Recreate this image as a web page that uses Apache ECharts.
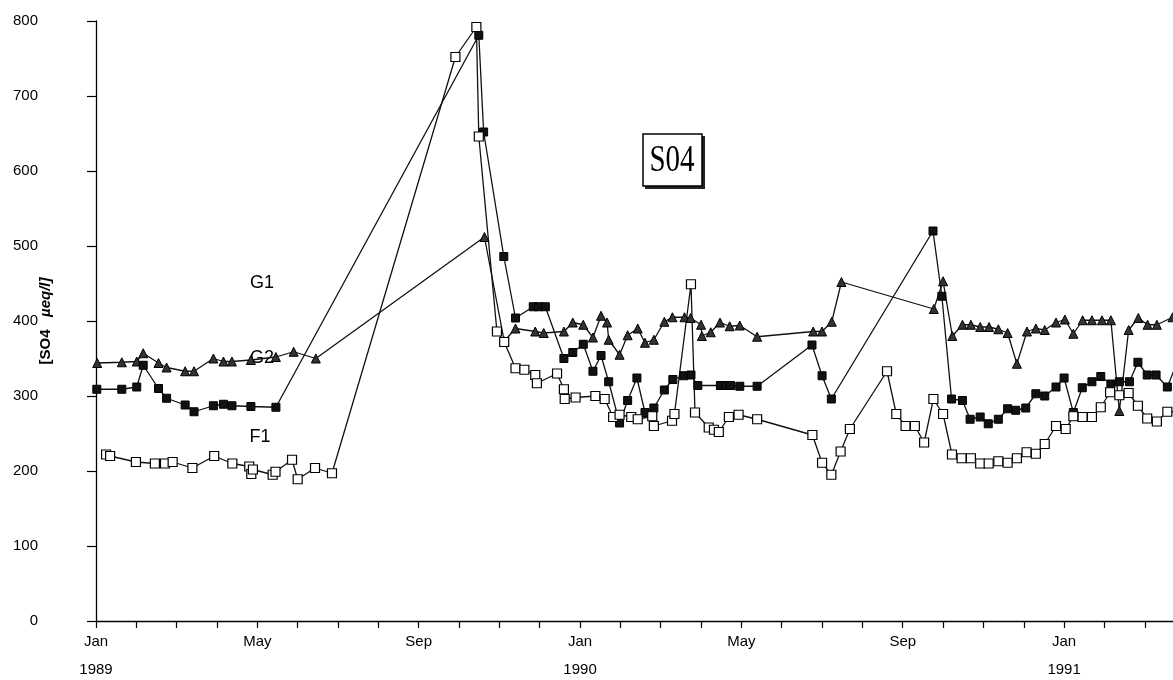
<!DOCTYPE html>
<html>
<head>
<meta charset="utf-8">
<script src="https://cdn.jsdelivr.net/npm/echarts@6/dist/echarts.min.js"></script>
<style>
html, body { margin: 0; padding: 0; background: #fff; }
#chart { width: 1173px; height: 680px; }
</style>
</head>
<body>
<div id="chart"></div>
<script>
// x = months since Jan 1989, y = SO4 in ueq/l
var g1 = [[0.03,344],[0.64,345],[1.01,346],[1.17,357],[1.55,344],[1.75,338],[2.21,333],[2.43,333],[2.91,350],[3.16,346],[3.37,346],[3.84,348],[4.46,352],[4.90,359],[5.45,350],[9.63,512],[10.12,373],[10.40,390],[10.89,386],[11.10,384],[11.60,386],[11.82,398],[12.08,395],[12.32,378],[12.52,407],[12.67,398],[12.71,375],[12.98,355],[13.18,381],[13.43,390],[13.61,371],[13.83,375],[14.09,399],[14.29,405],[14.59,405],[14.74,404],[15.00,395],[15.02,380],[15.24,385],[15.47,398],[15.71,393],[15.96,394],[16.39,379],[17.78,386],[18.00,386],[18.24,399],[18.48,452],[20.77,416],[21.00,453],[21.23,380],[21.48,395],[21.69,395],[21.92,392],[22.14,392],[22.37,389],[22.60,384],[22.83,343],[23.08,386],[23.30,390],[23.52,388],[23.80,398],[24.02,402],[24.23,383],[24.46,401],[24.69,401],[24.94,401],[25.16,401],[25.37,280],[25.60,388],[25.84,404],[26.07,395],[26.30,395],[26.69,405]];
var g2 = [[0.02,309],[0.64,309],[1.01,312],[1.17,341],[1.55,310],[1.75,297],[2.21,288],[2.43,279],[2.91,287],[3.16,289],[3.37,287],[3.84,286],[4.46,285],[9.49,781],[9.61,652],[10.11,486],[10.40,404],[10.84,419],[10.97,419],[11.14,419],[11.60,350],[11.82,358],[12.08,369],[12.32,333],[12.52,354],[12.71,319],[12.98,264],[13.18,294],[13.41,324],[13.61,278],[13.83,284],[14.09,308],[14.30,322],[14.57,327],[14.75,328],[14.92,314],[15.48,314],[15.61,314],[15.73,314],[15.96,313],[16.39,313],[17.75,368],[18.00,327],[18.23,296],[20.75,520],[20.97,433],[21.21,296],[21.48,294],[21.67,269],[21.92,272],[22.12,263],[22.37,269],[22.60,283],[22.80,281],[23.05,284],[23.30,303],[23.52,300],[23.80,312],[24.00,324],[24.23,278],[24.45,311],[24.69,319],[24.91,326],[25.16,316],[25.37,319],[25.62,319],[25.83,345],[26.06,328],[26.28,328],[26.56,312],[26.73,335]];
var f1 = [[0.25,222],[0.35,220],[0.99,212],[1.46,210],[1.71,210],[1.90,212],[2.39,204],[2.93,220],[3.38,210],[3.80,206],[3.85,196],[3.89,202],[4.38,195],[4.45,199],[4.86,215],[5.00,189],[5.43,204],[5.85,197],[8.91,752],[9.43,792],[9.49,646],[9.94,386],[10.12,372],[10.40,337],[10.62,335],[10.89,328],[10.93,317],[11.43,330],[11.60,309],[11.62,296],[11.89,298],[12.38,300],[12.61,296],[12.82,272],[12.98,275],[13.27,272],[13.43,269],[13.79,273],[13.83,260],[14.28,267],[14.34,276],[14.75,449],[14.85,278],[15.19,258],[15.32,255],[15.44,252],[15.69,272],[15.93,275],[16.39,269],[17.76,248],[18.00,211],[18.23,195],[18.46,226],[18.69,256],[19.61,333],[19.84,276],[20.07,260],[20.30,260],[20.53,238],[20.76,296],[21.00,276],[21.22,222],[21.46,217],[21.69,217],[21.92,210],[22.13,210],[22.37,213],[22.60,211],[22.83,217],[23.07,225],[23.30,223],[23.52,236],[23.80,260],[24.04,256],[24.23,273],[24.46,272],[24.69,272],[24.91,285],[25.14,305],[25.37,301],[25.60,304],[25.83,287],[26.06,270],[26.30,266],[26.56,279],[26.73,279]];

var tickMonths = [];
for (var i = 0; i <= 26; i++) tickMonths.push(i);
var labelMonths = [0, 4, 8, 12, 16, 20, 24];
var labelTexts = ['Jan\n1989', 'May', 'Sep', 'Jan\n1990', 'May', 'Sep', 'Jan\n1991'];

var myChart = echarts.init(document.getElementById('chart'));

var lineStyle = { color: '#111', width: 1.3 };

var option = {
	animation: false,
	backgroundColor: '#fff',
	grid: { left: 96, right: 0, top: 21, bottom: 59, containLabel: false, outerBoundsMode: 'none' },
	xAxis: {
		type: 'value',
		min: 0,
		max: 26.7,
		splitLine: { show: false },
		axisLine: { lineStyle: { color: '#000', width: 1.3 } },
		axisTick: { customValues: tickMonths, length: 7, lineStyle: { color: '#000', width: 1.2 } },
		axisLabel: {
			customValues: labelMonths,
			formatter: function (v) {
				var k = labelMonths.indexOf(Math.round(v));
				return k < 0 ? '' : labelTexts[k];
			},
			color: '#000',
			fontFamily: 'Liberation Sans',
			fontSize: 15,
			lineHeight: 28,
			margin: 7
		}
	},
	yAxis: {
		type: 'value',
		min: 0,
		max: 800,
		interval: 100,
		splitLine: { show: false },
		axisLine: { show: true, lineStyle: { color: '#000', width: 1.3 } },
		axisTick: { show: true, length: 9, lineStyle: { color: '#000', width: 1.2 } },
		axisLabel: { color: '#000', fontFamily: 'Liberation Sans', fontSize: 15, margin: 58 },
		name: '{a|[SO4   }{b|µeq/l]}',
		nameLocation: 'middle',
		nameGap: 43,
		nameRotate: 90,
		nameMoveOverlap: false,
		nameTextStyle: {
			rich: {
				a: { fontFamily: 'Liberation Sans', fontWeight: 'bold', fontSize: 15, color: '#000' },
				b: { fontFamily: 'Liberation Sans', fontWeight: 'bold', fontStyle: 'italic', fontSize: 15, color: '#000' }
			}
		}
	},
	series: [{
		name: 'G1',
		type: 'line',
		data: g1,
		symbol: 'triangle',
		symbolSize: 9,
		lineStyle: lineStyle,
		itemStyle: { color: '#333', borderColor: '#000', borderWidth: 1 }
	}, {
		name: 'G2',
		type: 'line',
		data: g2,
		symbol: 'rect',
		symbolSize: 8,
		lineStyle: lineStyle,
		itemStyle: { color: '#111', borderColor: '#000', borderWidth: 1 }
	}, {
		name: 'F1',
		type: 'line',
		data: f1,
		symbol: 'rect',
		symbolSize: 9,
		lineStyle: lineStyle,
		itemStyle: { color: '#fff', borderColor: '#000', borderWidth: 1.2 }
	}],
	graphic: [
		{ type: 'text', x: 262, y: 283, style: { text: 'G1', font: '18px "Liberation Sans"', fill: '#000', textAlign: 'center', textVerticalAlign: 'middle' } },
		{ type: 'text', x: 262, y: 358, style: { text: 'G2', font: '18px "Liberation Sans"', fill: '#000', textAlign: 'center', textVerticalAlign: 'middle' } },
		{ type: 'text', x: 260, y: 437, style: { text: 'F1', font: '18px "Liberation Sans"', fill: '#000', textAlign: 'center', textVerticalAlign: 'middle' } },
		{ type: 'rect', shape: { x: 645, y: 136, width: 60, height: 53 }, style: { fill: '#222' } },
		{ type: 'rect', shape: { x: 643, y: 134, width: 59, height: 52 }, style: { fill: '#fff', stroke: '#000', lineWidth: 1.5 } },
		{ type: 'text', x: 672, y: 161, scaleY: 1.3, style: { text: 'S04', font: '29px "Liberation Serif"', fill: '#000', textAlign: 'center', textVerticalAlign: 'middle' } }
	]
};

myChart.setOption(option);
</script>
</body>
</html>
